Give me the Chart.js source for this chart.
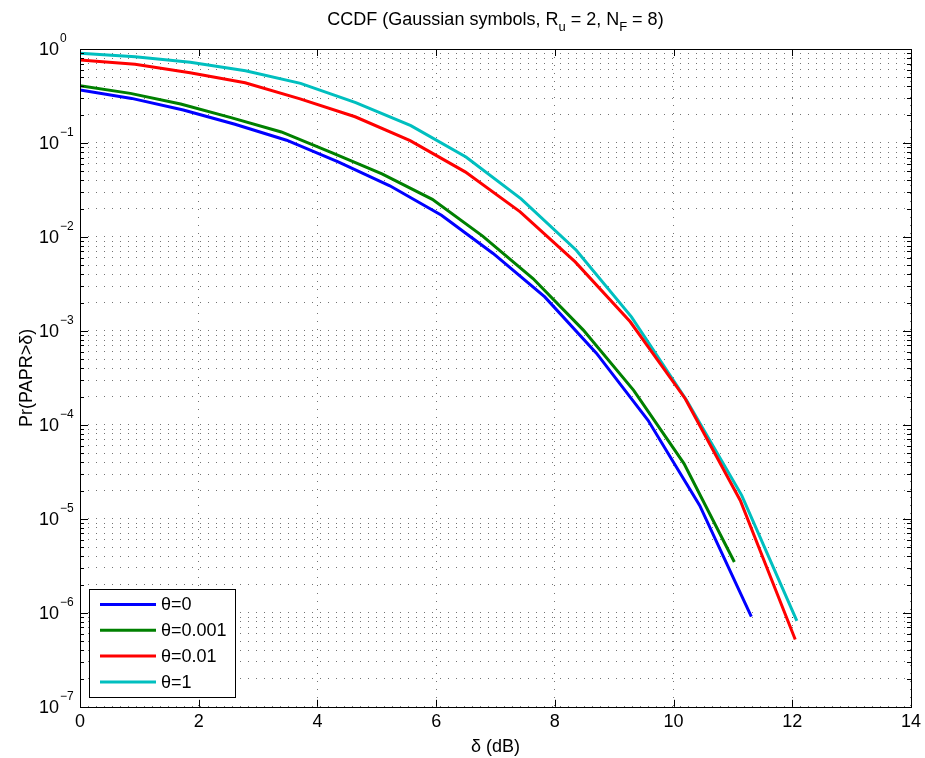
<!DOCTYPE html>
<html>
<head>
<meta charset="utf-8">
<title>CCDF Gaussian symbols</title>
<script src="https://cdn.jsdelivr.net/npm/chart.js@4.4.1/dist/chart.umd.min.js"></script>
<style>
  html, body { margin: 0; padding: 0; background: #fff; }
  #wrap { width: 925px; height: 758px; position: relative; }
</style>
</head>
<body>
<div id="wrap"><canvas id="ccdfChart"></canvas></div>
<script>
// --- data ---
const seriesLabels = ['θ=0', 'θ=0.001', 'θ=0.01', 'θ=1'];
const seriesColors = ['#0000ff', '#008000', '#ff0000', '#00bfbf'];

const deltaTheta0 = [0, 0.87, 1.74, 2.61, 3.48, 4.35, 5.22, 6.09, 6.96, 7.83, 8.70, 9.57, 10.44, 11.31];
const ccdfTheta0 = [0.366, 0.298, 0.224, 0.158, 0.107, 0.063, 0.035, 0.017, 0.00667, 0.0023, 5.8e-4, 1.12e-4, 1.39e-5, 9.1e-7];

const deltaTheta0001 = [0, 0.848, 1.696, 2.544, 3.392, 4.24, 5.088, 5.936, 6.784, 7.632, 8.48, 9.328, 10.176, 11.024];
const ccdfTheta0001 = [0.407, 0.337, 0.26, 0.186, 0.131, 0.079, 0.0468, 0.0251, 0.0102, 0.00361, 1.02e-3, 2.33e-4, 3.87e-5, 3.47e-6];

const deltaTheta001 = [0, 0.927, 1.854, 2.781, 3.708, 4.635, 5.562, 6.489, 7.416, 8.343, 9.27, 10.197, 11.124, 12.05];
const ccdfTheta001 = [0.763, 0.687, 0.56, 0.438, 0.295, 0.19, 0.106, 0.0493, 0.0185, 0.00543, 1.25e-3, 1.9e-4, 1.57e-5, 5.2e-7];

const deltaTheta1 = [0, 0.929, 1.858, 2.787, 3.716, 4.645, 5.574, 6.503, 7.432, 8.361, 9.29, 10.219, 11.148, 12.077];
const ccdfTheta1 = [0.899, 0.828, 0.721, 0.587, 0.431, 0.269, 0.153, 0.0708, 0.0254, 0.00723, 1.41e-3, 1.83e-4, 1.78e-5, 8.2e-7];

const xTickValues = [0, 2, 4, 6, 8, 10, 12, 14];
const yDecadeExponents = [-7, -6, -5, -4, -3, -2, -1, 0];
const yMantissas = [1, 2, 3, 4, 5, 6, 7, 8, 9];

const FONT = "'Liberation Sans', Arial, Helvetica, sans-serif";

// pair x/y arrays into chart points
function toPoints(xs, ys) {
  return xs.map((x, i) => ({ x: x, y: ys[i] }));
}

const allSeries = [
  toPoints(deltaTheta0, ccdfTheta0),
  toPoints(deltaTheta0001, ccdfTheta0001),
  toPoints(deltaTheta001, ccdfTheta001),
  toPoints(deltaTheta1, ccdfTheta1)
];

// grid positions for the log axis: every mantissa of every decade
const yGridValues = [];
yDecadeExponents.forEach(e => {
  yMantissas.forEach(m => {
    if (e === 0 && m > 1) return;
    yGridValues.push({ value: m * Math.pow(10, e), major: m === 1 });
  });
});

// --- MATLAB-like decorations: box, inward ticks, labels, title, legend ---
const matlabDecor = {
  id: 'matlabDecor',
  afterDraw(chart) {
    const { ctx, chartArea: a, scales: { x, y } } = chart;
    ctx.save();

    // inward tick marks
    ctx.strokeStyle = '#000';
    ctx.lineWidth = 1;
    ctx.setLineDash([]);
    ctx.beginPath();
    y.ticks.forEach(t => {
      const py = Math.round(y.getPixelForValue(t.value)) + 0.5;
      const len = t.major ? 8 : 4;
      ctx.moveTo(a.left, py); ctx.lineTo(a.left + len, py);
      ctx.moveTo(a.right, py); ctx.lineTo(a.right - len, py);
    });
    x.ticks.forEach(t => {
      const px = Math.round(x.getPixelForValue(t.value)) + 0.5;
      ctx.moveTo(px, a.bottom); ctx.lineTo(px, a.bottom - 7);
      ctx.moveTo(px, a.top); ctx.lineTo(px, a.top + 7);
    });
    ctx.stroke();

    // axes box
    ctx.strokeRect(Math.round(a.left) + 0.5, Math.round(a.top) + 0.5,
      Math.round(a.right - a.left), Math.round(a.bottom - a.top));

    // y tick labels as 10 with a raised exponent
    ctx.fillStyle = '#000';
    ctx.textBaseline = 'middle';
    y.ticks.filter(t => t.major).forEach(t => {
      const py = y.getPixelForValue(t.value);
      const exp = Math.round(Math.log10(t.value));
      ctx.font = '18px ' + FONT;
      ctx.textAlign = 'right';
      ctx.fillText('10', 59, py + 1);
      ctx.font = '12px ' + FONT;
      ctx.textAlign = 'left';
      ctx.fillText(exp === 0 ? '0' : '\u2212' + Math.abs(exp), 60, py - 10);
    });

    // y axis title
    ctx.save();
    ctx.translate(27, (a.top + a.bottom) / 2);
    ctx.rotate(-Math.PI / 2);
    ctx.font = '18px ' + FONT;
    ctx.textAlign = 'center';
    ctx.textBaseline = 'middle';
    ctx.fillText('Pr(PAPR>δ)', 0, 0);
    ctx.restore();

    // title with subscripts
    const parts = [
      { t: 'CCDF (Gaussian symbols, R', sub: false },
      { t: 'u', sub: true },
      { t: ' = 2, N', sub: false },
      { t: 'F', sub: true },
      { t: ' = 8)', sub: false }
    ];
    const mainFont = '18px ' + FONT;
    const subFont = '13px ' + FONT;
    let total = 0;
    parts.forEach(p => {
      ctx.font = p.sub ? subFont : mainFont;
      p.w = ctx.measureText(p.t).width;
      total += p.w;
    });
    let tx = (a.left + a.right) / 2 - total / 2;
    const baseY = 25;
    ctx.textAlign = 'left';
    ctx.textBaseline = 'alphabetic';
    parts.forEach(p => {
      ctx.font = p.sub ? subFont : mainFont;
      ctx.fillText(p.t, tx, p.sub ? baseY + 6 : baseY);
      tx += p.w;
    });

    // legend box bottom-left inside the axes
    const box = { x: 89.5, y: 589.5, w: 146, h: 108 };
    ctx.fillStyle = '#fff';
    ctx.fillRect(box.x, box.y, box.w, box.h);
    ctx.strokeStyle = '#000';
    ctx.lineWidth = 1;
    ctx.strokeRect(box.x, box.y, box.w, box.h);
    ctx.font = '18px ' + FONT;
    ctx.textBaseline = 'middle';
    chart.data.datasets.forEach((ds, i) => {
      const ly = box.y + 15 + i * 25.8;
      ctx.strokeStyle = ds.borderColor;
      ctx.lineWidth = 3;
      ctx.beginPath();
      ctx.moveTo(100, ly);
      ctx.lineTo(156, ly);
      ctx.stroke();
      ctx.fillStyle = '#000';
      ctx.fillText(ds.label, 161, ly + 1);
    });

    ctx.restore();
  }
};

const ctx = document.getElementById('ccdfChart').getContext('2d');
new Chart(ctx, {
  type: 'line',
  data: {
    datasets: allSeries.map((pts, i) => ({
      label: seriesLabels[i],
      data: pts,
      borderColor: seriesColors[i],
      backgroundColor: seriesColors[i],
      borderWidth: 3,
      pointRadius: 0,
      tension: 0,
      fill: false
    }))
  },
  options: {
    responsive: true,
    maintainAspectRatio: false,
    animation: false,
    layout: { padding: { left: 80, top: 49, right: 12, bottom: 0 } },
    plugins: {
      legend: { display: false },
      title: { display: false },
      tooltip: { enabled: false }
    },
    scales: {
      x: {
        type: 'linear',
        min: 0,
        max: 14,
        afterBuildTicks: axis => { axis.ticks = xTickValues.map(v => ({ value: v })); },
        grid: { color: 'rgba(0,0,0,0.55)', lineWidth: 1, drawTicks: false },
        border: { display: false, dash: [1, 7] },
        ticks: { color: '#000', padding: 4, maxRotation: 0, font: { family: FONT, size: 18 } },
        title: { display: true, text: 'δ (dB)', color: '#000', padding: { top: 0, bottom: 0 }, font: { family: FONT, size: 18 } }
      },
      y: {
        type: 'logarithmic',
        min: 1e-7,
        max: 1,
        afterBuildTicks: axis => { axis.ticks = yGridValues.map(g => ({ value: g.value, major: g.major })); },
        grid: { color: 'rgba(0,0,0,0.55)', lineWidth: 1, drawTicks: false },
        border: { display: false, dash: [1, 7] },
        ticks: { display: false }
      }
    }
  },
  plugins: [matlabDecor]
});
</script>
</body>
</html>
